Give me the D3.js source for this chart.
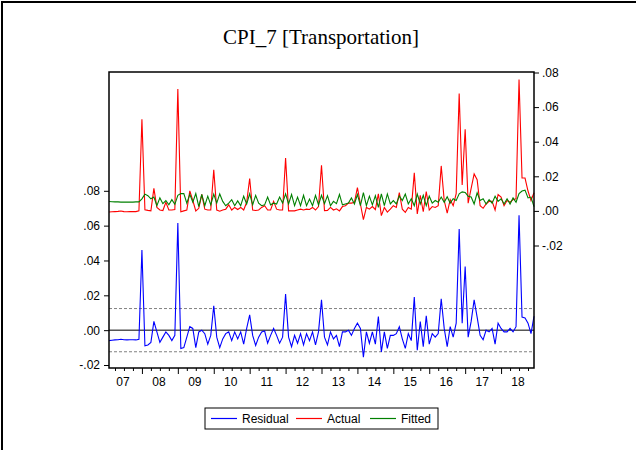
<!DOCTYPE html>
<html>
<head>
<meta charset="utf-8">
<script src="https://cdn.jsdelivr.net/npm/d3@7/dist/d3.min.js"></script>
<style>
    body { margin: 0; background: #fff; }
    svg { display: block; font-family: "Liberation Sans", Arial, sans-serif; }
</style>
</head>
<body>
<div id="chart"></div>
<script>
// Monthly observations 2007M02 .. 2018M12
const startYear = 2007, startMonth = 2;

const residual = [
    -0.0060,-0.0058,-0.0056,-0.0055,-0.0052,-0.0055,-0.0056,-0.0055,-0.0055,-0.0056,
    -0.0052, 0.0460,-0.0090,-0.0085,-0.0070, 0.0050,-0.0010,-0.0070,-0.0040,-0.0010,
    -0.0030,-0.0060,-0.0030, 0.0615,-0.0105,-0.0100,-0.0040, 0.0020, 0.0010,-0.0100,
    -0.0010, 0.0000,-0.0020,-0.0080,-0.0030, 0.0140,-0.0040,-0.0100,-0.0050,-0.0020,
    -0.0010,-0.0060,-0.0010,-0.0050,-0.0010,-0.0080, 0.0010, 0.0088,-0.0030,-0.0088,
    -0.0040,-0.0010,-0.0005,-0.0075,-0.0030, 0.0010,-0.0030,-0.0075,-0.0040, 0.0207,
    -0.0040,-0.0095,-0.0030,-0.0075,-0.0020,-0.0085,-0.0020,-0.0060,-0.0010,-0.0085,
    -0.0010, 0.0174,-0.0040,-0.0085,-0.0010,-0.0050,-0.0030,-0.0095,-0.0010,-0.0010,
     0.0000,-0.0030, 0.0010, 0.0040, 0.0010,-0.0155,-0.0010,-0.0075,-0.0010,-0.0080,
     0.0078,-0.0125,-0.0010,-0.0105,-0.0030,-0.0030,-0.0020, 0.0020,-0.0050,-0.0105,
    -0.0020,-0.0060, 0.0190,-0.0115, 0.0050,-0.0095, 0.0082,-0.0080,-0.0020,-0.0040,
    -0.0020, 0.0180, 0.0010,-0.0095, 0.0020,-0.0040, 0.0040, 0.0580, 0.0040, 0.0365,
    -0.0040, 0.0050, 0.0174, 0.0075,-0.0030,-0.0055, 0.0000,-0.0010, 0.0010,-0.0080,
     0.0040, 0.0010,-0.0010,-0.0010, 0.0010,-0.0010, 0.0020, 0.0660, 0.0075, 0.0070,
     0.0040,-0.0020, 0.0080
];

const actual = [
    -0.0006,-0.0005,-0.0004,-0.0003,-0.0001,-0.0004,-0.0005,-0.0004,-0.0004,-0.0004,
     0.0000, 0.0530, 0.0007, 0.0003, 0.0000, 0.0130, 0.0020, 0.0005, 0.0002, 0.0050,
     0.0005, 0.0005, 0.0008, 0.0705,-0.0005, 0.0000, 0.0005, 0.0116, 0.0060, 0.0000,
     0.0015, 0.0095, 0.0010, 0.0005, 0.0005, 0.0237, 0.0005,-0.0002, 0.0005, 0.0010,
     0.0035, 0.0005, 0.0020, 0.0008, 0.0020, 0.0005, 0.0050, 0.0187, 0.0005, 0.0002,
     0.0005, 0.0020, 0.0030, 0.0005, 0.0005, 0.0055, 0.0010, 0.0005, 0.0005, 0.0305,
     0.0000, 0.0000, 0.0000, 0.0005, 0.0010, 0.0005, 0.0010, 0.0008, 0.0020, 0.0005,
     0.0025, 0.0264, 0.0002, 0.0003, 0.0020, 0.0005, 0.0012, 0.0000, 0.0025, 0.0030,
     0.0045, 0.0045, 0.0050, 0.0135, 0.0040,-0.0050, 0.0020, 0.0010, 0.0025, 0.0008,
     0.0098,-0.0027, 0.0020,-0.0007, 0.0010, 0.0030, 0.0020, 0.0106, 0.0010,-0.0008,
     0.0020, 0.0010, 0.0220,-0.0018, 0.0090,-0.0005, 0.0112, 0.0005, 0.0025, 0.0020,
     0.0030, 0.0260, 0.0060,-0.0013, 0.0065, 0.0030, 0.0100, 0.0679, 0.0150, 0.0472,
     0.0045, 0.0130, 0.0214, 0.0180, 0.0030, 0.0015, 0.0040, 0.0055, 0.0055, 0.0005,
     0.0095, 0.0080, 0.0030, 0.0060, 0.0050, 0.0065, 0.0070, 0.0760, 0.0190, 0.0190,
     0.0115, 0.0060, 0.0105
];

const fitted = [
    0.0054,0.0053,0.0052,0.0052,0.0051,0.0051,0.0051,0.0051,0.0051,0.0052,
    0.0052,0.0070,0.0097,0.0088,0.0070,0.0080,0.0030,0.0075,0.0042,0.0060,
    0.0035,0.0065,0.0038,0.0090,0.0100,0.0100,0.0045,0.0096,0.0050,0.0100,
    0.0025,0.0095,0.0030,0.0085,0.0035,0.0097,0.0045,0.0098,0.0055,0.0030,
    0.0045,0.0065,0.0030,0.0058,0.0030,0.0085,0.0040,0.0099,0.0035,0.0090,
    0.0045,0.0030,0.0035,0.0080,0.0035,0.0045,0.0040,0.0080,0.0045,0.0098,
    0.0040,0.0095,0.0030,0.0080,0.0030,0.0090,0.0030,0.0068,0.0030,0.0090,
    0.0035,0.0090,0.0042,0.0088,0.0030,0.0055,0.0042,0.0095,0.0035,0.0040,
    0.0045,0.0075,0.0040,0.0095,0.0030,0.0105,0.0030,0.0085,0.0035,0.0088,
    0.0020,0.0098,0.0030,0.0098,0.0040,0.0060,0.0040,0.0086,0.0060,0.0097,
    0.0040,0.0070,0.0030,0.0097,0.0040,0.0090,0.0030,0.0085,0.0045,0.0060,
    0.0050,0.0080,0.0050,0.0082,0.0045,0.0070,0.0060,0.0099,0.0110,0.0107,
    0.0085,0.0080,0.0040,0.0105,0.0060,0.0070,0.0040,0.0065,0.0045,0.0085,
    0.0055,0.0070,0.0040,0.0070,0.0040,0.0075,0.0050,0.0100,0.0115,0.0120,
    0.0075,0.0080,0.0025
];

const yearLabels = ['07','08','09','10','11','12','13','14','15','16','17','18'];
const axisTicks = [-0.02, 0.00, 0.02, 0.04, 0.06, 0.08];
const seriesNames = ['Residual', 'Actual', 'Fitted'];
const stdError = 0.0124; // S.E. of regression, dashed band around zero

const W = 636, H = 450;
const frame = { left: 109, right: 534, top: 72, bottom: 368 };
const colors = { Residual: '#0000ff', Actual: '#ff0000', Fitted: '#008000' };

const svg = d3.select('#chart').append('svg')
    .attr('width', W)
    .attr('height', H);

// border of the surrounding window (top + left edge only)
svg.append('path')
    .attr('d', `M2,${H} V2 H${W}`)
    .attr('fill', 'none')
    .attr('stroke', '#000')
    .attr('stroke-width', 2);

svg.append('text')
    .attr('x', 321).attr('y', 44)
    .attr('text-anchor', 'middle')
    .style('font-family', '"Liberation Serif", "Times New Roman", serif')
    .style('font-size', '21px')
    .text('CPI_7 [Transportation]');

// scales
const n = residual.length;
const x = d3.scaleLinear().domain([0, n - 1]).range([frame.left, frame.right]);
const yLeft = d3.scaleLinear().domain([-0.02, 0.08]).range([365, 190.8]);   // residual
const yRight = d3.scaleLinear().domain([-0.02, 0.08]).range([245.5, 72.5]); // actual / fitted

const fmt = v => (v < 0 ? '-' : '') + Math.abs(v).toFixed(2).replace(/^0/, '');

// axes
const axisL = svg.append('g')
    .attr('transform', `translate(${frame.left},0)`)
    .call(d3.axisLeft(yLeft).tickValues(axisTicks).tickFormat(fmt).tickSize(5).tickPadding(4));
const axisR = svg.append('g')
    .attr('transform', `translate(${frame.right},0)`)
    .call(d3.axisRight(yRight).tickValues(axisTicks).tickFormat(fmt).tickSize(5).tickPadding(3));

// month index of each January, quarters in between, and mid-year for labels
const janIdx = d3.range(1, yearLabels.length).map(k => 12 * k - (startMonth - 1));
const qtrIdx = d3.range(0, yearLabels.length).flatMap(k => [3, 6, 9].map(m => 12 * k + m - (startMonth - 1)))
    .filter(i => i >= 0 && i < n);
const midIdx = yearLabels.map((_, k) => 12 * k + 6.5 - startMonth);

const axisBMinor = svg.append('g')
    .attr('transform', `translate(0,${frame.bottom})`)
    .call(d3.axisBottom(x).tickValues(qtrIdx).tickSize(3).tickFormat(''));
const axisBMajor = svg.append('g')
    .attr('transform', `translate(0,${frame.bottom})`)
    .call(d3.axisBottom(x).tickValues(janIdx).tickSize(6).tickFormat(''));
const axisBLabels = svg.append('g')
    .attr('transform', `translate(0,${frame.bottom})`)
    .call(d3.axisBottom(x).tickValues(midIdx).tickSize(0).tickPadding(9)
        .tickFormat((_, i) => yearLabels[i]));

[axisL, axisR, axisBMinor, axisBMajor, axisBLabels].forEach(g => {
    g.select('.domain').remove();
    g.selectAll('text').style('font-size', '12px').style('font-family', '"Liberation Sans", Arial, sans-serif').attr('fill', '#000');
    g.selectAll('line').attr('stroke', '#000');
});

// reference lines for residual
svg.append('line')
    .attr('x1', frame.left).attr('x2', frame.right)
    .attr('y1', yLeft(0)).attr('y2', yLeft(0))
    .attr('stroke', '#000').attr('stroke-width', 1);
[stdError, -stdError].forEach(v => {
    svg.append('line')
        .attr('x1', frame.left).attr('x2', frame.right)
        .attr('y1', yLeft(v)).attr('y2', yLeft(v))
        .attr('stroke', '#808080').attr('stroke-width', 1)
        .attr('stroke-dasharray', '3,2');
});

// series lines
const lineL = d3.line().x((d, i) => x(i)).y(d => yLeft(d));
const lineR = d3.line().x((d, i) => x(i)).y(d => yRight(d));

svg.append('path').datum(residual)
    .attr('d', lineL).attr('fill', 'none')
    .attr('stroke', colors.Residual).attr('stroke-width', 1.1);
svg.append('path').datum(actual)
    .attr('d', lineR).attr('fill', 'none')
    .attr('stroke', colors.Actual).attr('stroke-width', 1.1);
svg.append('path').datum(fitted)
    .attr('d', lineR).attr('fill', 'none')
    .attr('stroke', colors.Fitted).attr('stroke-width', 1.1);

// plot frame
svg.append('rect')
    .attr('x', frame.left).attr('y', frame.top)
    .attr('width', frame.right - frame.left)
    .attr('height', frame.bottom - frame.top)
    .attr('fill', 'none')
    .attr('stroke', '#000').attr('stroke-width', 1.5);

// legend
const legend = svg.append('g').attr('transform', 'translate(205,408)');
legend.append('rect')
    .attr('width', 233).attr('height', 21)
    .attr('fill', '#fff').attr('stroke', '#000').attr('stroke-width', 1);
const legendX = [6, 91, 165];
const items = legend.selectAll('g.item')
    .data(seriesNames)
    .join('g')
    .classed('item', true)
    .attr('transform', (_, i) => `translate(${legendX[i]},10.5)`);
items.append('line')
    .attr('x1', 0).attr('x2', 26)
    .attr('stroke', d => colors[d]).attr('stroke-width', 1.2);
items.append('text')
    .attr('x', 31).attr('dy', '0.35em')
    .style('font-size', '12px')
    .text(d => d);
</script>
</body>
</html>
